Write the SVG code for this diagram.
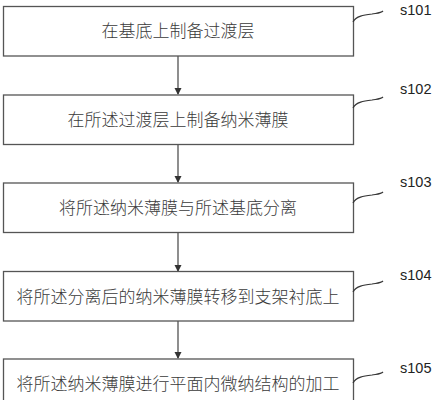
<svg xmlns="http://www.w3.org/2000/svg" width="435" height="400" viewBox="0 0 435 400">
<defs>
<style>
.box{fill:#fff;stroke:#555;stroke-width:1.3}
.t{font-family:"Noto Sans CJK SC","Noto Sans",sans-serif;font-size:17px;fill:#3a3a3a;text-anchor:middle;font-weight:300}
.lbl{font-family:"Liberation Sans","Noto Sans",sans-serif;font-size:14.5px;fill:#222}
.sq{fill:none;stroke:#333;stroke-width:1.2}
.ar{stroke:#444;stroke-width:1.2;fill:none}
</style>
<marker id="ah" markerWidth="8" markerHeight="8" refX="6" refY="3.5" orient="auto" markerUnits="userSpaceOnUse">
<path d="M0,0 L7,3.5 L0,7 Z" fill="#333"/>
</marker>
</defs>
<rect width="435" height="400" fill="#fff"/>
<g id="connectors">
<line class="ar" x1="178" y1="56" x2="178" y2="94" marker-end="url(#ah)"/>
<line class="ar" x1="178" y1="144" x2="178" y2="182" marker-end="url(#ah)"/>
<line class="ar" x1="178" y1="232" x2="178" y2="271" marker-end="url(#ah)"/>
<line class="ar" x1="178" y1="321" x2="178" y2="358" marker-end="url(#ah)"/>
</g>
<g id="s101">
<rect class="box" x="3.5" y="6.5" width="350" height="49.5"/>
<text class="t" x="178" y="37">在基底上制备过渡层</text>
<path class="sq" d="M353,22 C356,16 364,15 372,14 C378,13 381,13 383,11"/>
<text class="lbl" x="400" y="14.5">s101</text>
</g>
<g id="s102">
<rect class="box" x="3.5" y="95" width="350" height="49.5"/>
<text class="t" x="178" y="126">在所述过渡层上制备纳米薄膜</text>
<path class="sq" d="M353,108 C356,102 364,101 372,100 C378,99 381,99 383,97"/>
<text class="lbl" x="400" y="94">s102</text>
</g>
<g id="s103">
<rect class="box" x="3.5" y="183" width="350" height="49.5"/>
<text class="t" x="178" y="214">将所述纳米薄膜与所述基底分离</text>
<path class="sq" d="M353,203 C356,197 364,196 372,195 C378,194 381,194 383,192"/>
<text class="lbl" x="400" y="187">s103</text>
</g>
<g id="s104">
<rect class="box" x="3.5" y="271.5" width="350" height="49.5"/>
<text class="t" x="178" y="302.5">将所述分离后的纳米薄膜转移到支架衬底上</text>
<path class="sq" d="M353,292 C356,286 364,285 372,284 C378,283 381,283 383,281"/>
<text class="lbl" x="400" y="280">s104</text>
</g>
<g id="s105">
<rect class="box" x="3.5" y="359" width="350" height="50"/>
<text class="t" x="178" y="390">将所述纳米薄膜进行平面内微纳结构的加工</text>
<path class="sq" d="M353,383 C356,377 364,376 372,375 C378,374 381,374 383,372"/>
<text class="lbl" x="400" y="373">s105</text>
</g>
</svg>
